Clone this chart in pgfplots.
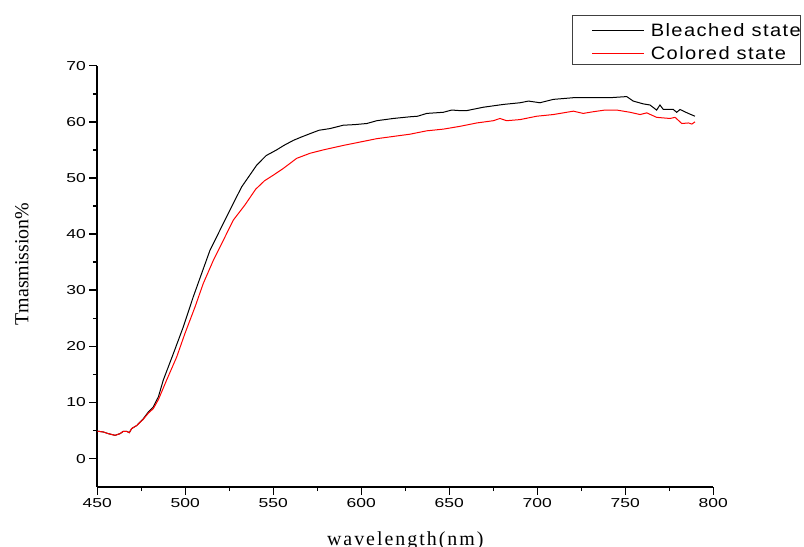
\documentclass[border=0pt]{standalone}
\usepackage{fontspec}
\usepackage{pgfplots}
\pgfplotsset{compat=1.18}
\setmainfont{Liberation Serif}
\newfontfamily\tickfont[FakeStretch=1.35]{Liberation Sans}
\newfontfamily\legfont[FakeStretch=1.12, LetterSpace=8]{Liberation Sans}
\newfontfamily\xlabfont[LetterSpace=10]{Liberation Serif}
\newfontfamily\ylabfont{Liberation Serif}

\begin{document}
\begin{tikzpicture}
\path[use as bounding box] (-97.3bp,-60.3bp) rectangle (706.7bp,486.7bp);
\begin{axis}[
  at={(0,0)}, anchor=south west,
  scale only axis, width=616bp, height=421bp,
  xmin=450, xmax=800, ymin=-5, ymax=70,
  xtick={450,500,...,800}, ytick={0,10,...,70},
  minor x tick num=1, minor y tick num=1,
  axis x line*=bottom, axis y line*=left,
  axis line style={line width=2bp, -},
  tick align=outside,
  major tick length=8bp, minor tick length=4.5bp,
  every tick/.style={black, line width=1.5bp},
  /pgf/number format/assume math mode=true,
  ticklabel style={font=\tickfont\fontsize{13}{13}\selectfont},
  xlabel={wavelength(nm)}, ylabel={Tmasmission\%},
  xlabel style={at={(axis description cs:0.5,-0.1385)}, anchor=base, font=\xlabfont\fontsize{20}{20}\selectfont},
  ylabel style={at={(axis description cs:-0.112,0.529)}, anchor=base, font=\ylabfont\fontsize{20}{20}\selectfont},
  legend style={at={(rel axis cs:0.7706,1.1204)}, anchor=north west,
    draw=black!75, line width=0.8bp,
    font=\legfont\fontsize{18}{18}\selectfont,
    inner xsep=0bp, inner ysep=1.35bp, row sep=0bp, column sep=0bp,
    cells={anchor=west},
    nodes={inner sep=0bp}},
  legend image code/.code={%
    \draw[#1, line width=1bp] (0bp,0bp) -- (51.6bp,0bp);
    \path[draw=none, fill=none] (-19.7bp,-9.65bp) rectangle (58.7bp,13.65bp);},
  clip=false,
]
% bleached film
\addplot[black, line width=1bp] coordinates {
(450,4.9) (453.4,4.75) (456.3,4.45) (460.1,4.15) (462.9,4.45) (464.8,4.87)
(466.7,4.87) (468.2,4.63) (469.5,5.35) (472.4,5.9) (476.1,7.1) (479,8.3)
(481.8,9.2) (484.7,11.0) (487.5,14.0) (493.2,18.7) (498.9,23.5) (504.5,28.8)
(509.3,33.0) (514,37.1) (519.7,40.7) (525.4,44.3) (532,48.4) (540.6,52.3)
(546,54.0) (551.9,55.0) (556,55.8) (561.4,56.7) (566,57.3) (570.9,57.9)
(576,58.5) (582.2,58.8) (589.8,59.4) (596,59.5) (603.1,59.7) (608.8,60.2)
(618.2,60.6) (627.7,60.9) (632,61.0) (637.2,61.5) (646.6,61.7) (651.4,62.1)
(656.1,62.0) (659.9,62.0) (669.3,62.6) (680.7,63.1) (690.2,63.4) (695,63.7)
(701.5,63.4) (709.1,64.0) (720.5,64.3) (729.9,64.3) (741.3,64.3) (750.8,64.5)
(754.5,63.7) (760.2,63.2) (764,63.0) (767.8,62.1) (769.7,63.0) (771.6,62.2)
(777.3,62.2) (779.2,61.7) (781.1,62.2) (785.8,61.5) (789.6,61.0)
};
\addlegendentry{Bleached state\hspace{60bp}}
% colored film
\addplot[red, line width=1bp] coordinates {
(450,4.9) (453.4,4.75) (456.3,4.45) (460.1,4.15) (462.9,4.45) (464.8,4.87)
(466.7,4.87) (468.2,4.63) (469.5,5.35) (472.4,5.9) (476.1,7.0) (479,8.1)
(481.8,8.9) (484.7,10.5) (489.4,14.0) (495.1,18.1) (499.8,22.3) (505.5,27.0)
(510.2,31.2) (515.9,35.3) (521.6,38.9) (527.3,42.5) (533.9,45.2) (540,48.0)
(545,49.5) (550,50.5) (555.7,51.7) (559.5,52.6) (563.3,53.5) (570.9,54.4)
(578.4,55.0) (589.8,55.8) (599.3,56.4) (608.8,57.0) (618.2,57.4) (627.7,57.8)
(637.2,58.4) (646.6,58.7) (656.1,59.2) (665.6,59.8) (675,60.2) (678.8,60.6)
(682.6,60.2) (690.2,60.4) (699.7,61.0) (709.1,61.3) (714.8,61.6) (720.5,61.9)
(726.1,61.5) (731.8,61.8) (738.5,62.1) (745.1,62.1) (752.7,61.7) (758.4,61.3)
(762.2,61.6) (767.8,60.8) (775.4,60.6) (778.3,60.8) (782.1,59.7) (785.9,59.8)
(787.8,59.6) (789.6,60.0)
};
\addlegendentry{Colored state\hspace{60bp}}
\end{axis}
\end{tikzpicture}
\end{document}
